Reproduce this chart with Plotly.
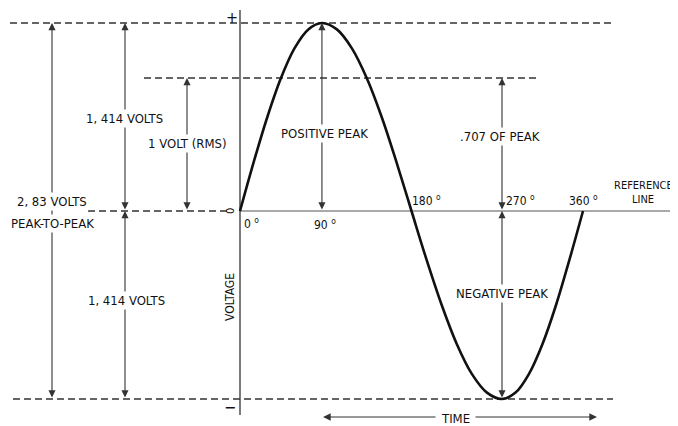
import plotly.graph_objects as go

# Sine wave (degrees along the reference line, volts)
degrees = [0, 14.3, 28.7, 43, 57.3, 71.7, 86,
           101.7, 117.3, 133, 148.7, 164.3, 180,
           195.8, 211.7, 227.5, 243.3, 259.2, 275,
           289.2, 303.3, 317.5, 331.7, 345.8, 360]
volts = [0, 0.366, 0.707, 1.0, 1.225, 1.366, 1.414,
         1.366, 1.225, 1.0, 0.707, 0.366, 0,
         -0.366, -0.707, -1.0, -1.225, -1.366, -1.414,
         -1.366, -1.225, -1.0, -0.707, -0.366, 0]

peak = 1.414
rms = 1.0
peak_deg = 86
trough_deg = 275
tick_labels = ["0", "90", "180", "270", "360"]

# pixel -> data helpers for the drawing
SX = 343 / 360
SY = 188 / 1.414
def dx(p):
    return (p - 240) / SX
def dy(p):
    return (211 - p) / SY

FONT = "DejaVu Sans Condensed, Liberation Sans Narrow, Arial Narrow, sans-serif"
INK = "#111"
fig = go.Figure()

def dashed(x0, x1, y):
    fig.add_trace(go.Scatter(x=[dx(x0), dx(x1)], y=[y, y], mode="lines",
                             line=dict(color="#333", width=1.4, dash="7px,4px"),
                             hoverinfo="skip"))

dashed(10, 612, peak)
dashed(144, 540, rms)
dashed(88, 228, 0)
dashed(13, 613, -peak)

# reference line and voltage axis
fig.add_trace(go.Scatter(x=[0, dx(677)], y=[0, 0], mode="lines",
                         line=dict(color="#555", width=1.1), hoverinfo="skip"))
fig.add_trace(go.Scatter(x=[0, 0], y=[dy(10), dy(415)], mode="lines",
                         line=dict(color="#333", width=1.3), hoverinfo="skip"))

# the wave
fig.add_trace(go.Scatter(x=degrees, y=volts, mode="lines", line_shape="spline",
                         line=dict(color="#111", width=2.6), hoverinfo="skip"))

def dim(x, y0, y1):
    fig.add_annotation(x=x, y=y1, ax=x, ay=y0, xref="x", yref="y", axref="x", ayref="y",
                       text="", showarrow=True, arrowhead=2, startarrowhead=2,
                       arrowside="end+start", arrowsize=1.3, arrowwidth=1.1,
                       arrowcolor="#333")

dim(dx(52), -peak, peak)
dim(dx(125), 0, peak)
dim(dx(125), -peak, 0)
dim(dx(187), 0, rms)
dim(peak_deg, 0, peak)
dim(trough_deg, 0, rms)
dim(trough_deg, -peak, 0)

def label(x, y, text, size=13, bg="white", angle=0):
    fig.add_annotation(x=x, y=y, text=text, showarrow=False, textangle=angle,
                       font=dict(family=FONT, size=size, color=INK),
                       bgcolor=bg, borderpad=1, xanchor="center", yanchor="middle")

label(dx(52), dy(201), "2, 83 VOLTS")
label(dx(52), dy(223), "PEAK-TO-PEAK")
label(dx(124), dy(118), "1, 414 VOLTS")
label(dx(126), dy(300), "1, 414 VOLTS")
label(dx(187), dy(143), "1 VOLT (RMS)")
label(dx(324), dy(133), "POSITIVE PEAK")
label(dx(500), dy(136), ".707 OF PEAK")
label(dx(502), dy(293), "NEGATIVE PEAK")
label(dx(643), dy(185), "REFERENCE", size=11, bg=None)
label(dx(643), dy(199), "LINE", size=11, bg=None)
label(dx(230), dy(297), "VOLTAGE", size=12, bg=None, angle=-90)
label(dx(232), dy(17), "+", size=16, bg=None)
label(dx(230), dy(407), "−", size=16, bg=None)
label(dx(230), dy(211), "0", size=11, bg=None, angle=-90)

# degree marks
deg_pos = [(251, 223), (325, 224), (426, 200), (520, 200), (583, 200)]
for t, (px_, py_) in zip(tick_labels, deg_pos):
    label(dx(px_), dy(py_), t + " <sup>o</sup>", size=12, bg=None)

# time arrows
label(dx(455), dy(418), "TIME", bg=None)
fig.add_annotation(x=dx(323), y=dy(417), ax=dx(437), ay=dy(417), xref="x", yref="y",
                   axref="x", ayref="y", text="", showarrow=True, arrowhead=2,
                   arrowsize=1.4, arrowwidth=1.1, arrowcolor="#333")
fig.add_annotation(x=dx(597), y=dy(417), ax=dx(474), ay=dy(417), xref="x", yref="y",
                   axref="x", ayref="y", text="", showarrow=True, arrowhead=2,
                   arrowsize=1.4, arrowwidth=1.1, arrowcolor="#333")

# the page sits 8px in from the window corner, so the ranges start 8px later
fig.update_layout(width=678, height=426, margin=dict(l=0, r=0, t=0, b=0),
                  plot_bgcolor="white", paper_bgcolor="white", showlegend=False,
                  xaxis=dict(range=[dx(8), dx(686)], visible=False),
                  yaxis=dict(range=[dy(434), dy(8)], visible=False))

fig.write_html("out.html")
